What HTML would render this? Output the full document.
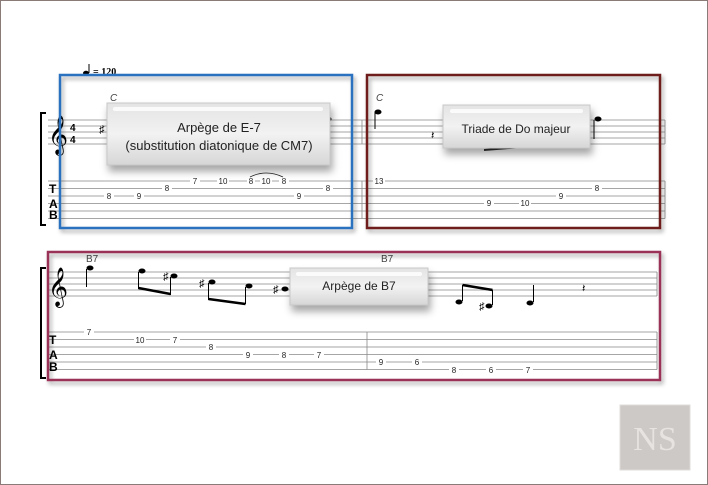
<!DOCTYPE html>
<html><head><meta charset="utf-8"><style>
html,body{margin:0;padding:0;background:#fff;}
svg{display:block;font-family:"Liberation Sans",sans-serif;}
</style></head><body>
<svg width="708" height="485" viewBox="0 0 708 485" xmlns="http://www.w3.org/2000/svg">
<defs>
<linearGradient id="cg" x1="0" y1="0" x2="0" y2="1">
<stop offset="0" stop-color="#e4e4e4"/><stop offset="0.5" stop-color="#f2f2f2"/><stop offset="1" stop-color="#d6d6d6"/>
</linearGradient>
<filter id="sh" x="-20%" y="-20%" width="140%" height="160%"><feDropShadow dx="2" dy="6" stdDeviation="4" flood-color="#000" flood-opacity="0.35"/></filter>
<filter id="sh2" x="-5%" y="-5%" width="110%" height="115%"><feDropShadow dx="2" dy="3" stdDeviation="2" flood-color="#000" flood-opacity="0.35"/></filter>
</defs>
<rect x="0.5" y="0.5" width="707" height="484" fill="#fff" stroke="#8a7a78"/>
<ellipse cx="86" cy="73" rx="3" ry="2.2" fill="#000"/><line x1="89" y1="73" x2="89" y2="64" stroke="#000"/>
<text x="93" y="75" font-family="Liberation Serif" font-weight="bold" font-size="10">= 120</text>
<g stroke="#888" stroke-width="0.8">
<line x1="48" y1="120" x2="665" y2="120"/><line x1="48" y1="126" x2="665" y2="126"/><line x1="48" y1="132" x2="665" y2="132"/><line x1="48" y1="138" x2="665" y2="138"/><line x1="48" y1="144" x2="665" y2="144"/>
<line x1="48" y1="181" x2="665" y2="181"/><line x1="48" y1="188.5" x2="665" y2="188.5"/><line x1="48" y1="196" x2="665" y2="196"/><line x1="48" y1="203.5" x2="665" y2="203.5"/><line x1="48" y1="211" x2="665" y2="211"/><line x1="48" y1="218.5" x2="665" y2="218.5"/>
<line x1="362" y1="120" x2="362" y2="144"/><line x1="362" y1="181" x2="362" y2="218.5"/>
<line x1="665" y1="120" x2="665" y2="144"/><line x1="665" y1="181" x2="665" y2="218.5"/>
</g>
<path d="M46 113 L41 113 L41 225 L46 225" fill="none" stroke="#000" stroke-width="2"/>
<text x="48" y="146" font-size="34" font-family="DejaVu Sans">&#x1D11E;</text>
<text x="70" y="131" font-weight="bold" font-size="10">4</text><text x="70" y="143" font-weight="bold" font-size="10">4</text>
<text x="99" y="133" font-size="11">♯</text>
<text x="49" y="193" font-weight="bold" font-size="12">T</text><text x="49" y="208" font-weight="bold" font-size="12">A</text><text x="49" y="219" font-weight="bold" font-size="12">B</text>
<text x="110" y="101" font-style="italic" font-size="10" fill="#444">C</text>
<text x="376" y="101" font-style="italic" font-size="10" fill="#444">C</text>
<ellipse cx="328" cy="119" rx="3.5" ry="2.5" fill="#000"/>
<ellipse cx="378" cy="112" rx="3.5" ry="2.5" fill="#000"/><line x1="375" y1="112" x2="375" y2="129" stroke="#000"/>
<text x="431" y="139" font-size="11">𝄽</text>
<ellipse cx="598" cy="119" rx="3.5" ry="2.5" fill="#000"/><line x1="594" y1="120" x2="594" y2="139" stroke="#000"/>
<line x1="484" y1="150" x2="522" y2="147" stroke="#333" stroke-width="2"/>
<g font-size="8" text-anchor="middle" fill="#222">
<rect x="104" y="192" width="10" height="8" fill="#fff"/><text x="109" y="199">8</text>
<rect x="134" y="192" width="10" height="8" fill="#fff"/><text x="139" y="199">9</text>
<rect x="162" y="184" width="10" height="8" fill="#fff"/><text x="167" y="191">8</text>
<rect x="190" y="177" width="10" height="8" fill="#fff"/><text x="195" y="184">7</text>
<rect x="217" y="177" width="12" height="8" fill="#fff"/><text x="223" y="184">10</text>
<rect x="247" y="177" width="8" height="8" fill="#fff"/><text x="251" y="184">8</text>
<rect x="260" y="177" width="12" height="8" fill="#fff"/><text x="266" y="184">10</text>
<rect x="279" y="177" width="10" height="8" fill="#fff"/><text x="284" y="184">8</text>
<rect x="294" y="192" width="10" height="8" fill="#fff"/><text x="299" y="199">9</text>
<rect x="323" y="184" width="10" height="8" fill="#fff"/><text x="328" y="191">8</text>
<rect x="373" y="177" width="12" height="8" fill="#fff"/><text x="379" y="184">13</text>
<rect x="484" y="199" width="10" height="8" fill="#fff"/><text x="489" y="206">9</text>
<rect x="519" y="199" width="12" height="8" fill="#fff"/><text x="525" y="206">10</text>
<rect x="556" y="192" width="10" height="8" fill="#fff"/><text x="561" y="199">9</text>
<rect x="592" y="184" width="10" height="8" fill="#fff"/><text x="597" y="191">8</text>
</g>
<path d="M250 177 Q266 169 283 177" fill="none" stroke="#222" stroke-width="0.8"/>
<rect x="60" y="75" width="292" height="153" fill="none" stroke="#2a72c0" stroke-width="2.5" filter="url(#sh2)"/>
<rect x="367" y="75" width="293" height="153" fill="none" stroke="#6e1e1a" stroke-width="2.5" filter="url(#sh2)"/>
<g filter="url(#sh)"><rect x="107" y="103" width="223" height="62" fill="url(#cg)" stroke="#c8c8c8"/></g>
<rect x="113" y="107" width="210" height="4" rx="2" fill="#fff" opacity="0.8"/>
<text x="219" y="132" text-anchor="middle" font-size="13" fill="#222">Arpège de E-7</text>
<text x="219" y="150" text-anchor="middle" font-size="13" fill="#222">(substitution diatonique de CM7)</text>
<g filter="url(#sh)"><rect x="443" y="105" width="147" height="43" fill="url(#cg)" stroke="#c8c8c8"/></g>
<rect x="450" y="109" width="133" height="4" rx="2" fill="#fff" opacity="0.8"/>
<text x="516" y="133" text-anchor="middle" font-size="12" fill="#222">Triade de Do majeur</text>
<g stroke="#888" stroke-width="0.8">
<line x1="48" y1="272" x2="657" y2="272"/><line x1="48" y1="278" x2="657" y2="278"/><line x1="48" y1="284" x2="657" y2="284"/><line x1="48" y1="290" x2="657" y2="290"/><line x1="48" y1="296" x2="657" y2="296"/>
<line x1="48" y1="332" x2="657" y2="332"/><line x1="48" y1="339.5" x2="657" y2="339.5"/><line x1="48" y1="347" x2="657" y2="347"/><line x1="48" y1="354.5" x2="657" y2="354.5"/><line x1="48" y1="362" x2="657" y2="362"/><line x1="48" y1="369.5" x2="657" y2="369.5"/>
<line x1="367" y1="332" x2="367" y2="369.5"/><line x1="657" y1="272" x2="657" y2="296"/><line x1="657" y1="332" x2="657" y2="369.5"/>
</g>
<path d="M46 268 L41 268 L41 378 L46 378" fill="none" stroke="#000" stroke-width="2"/>
<text x="48" y="298" font-size="34" font-family="DejaVu Sans">&#x1D11E;</text>
<text x="49" y="344" font-weight="bold" font-size="12">T</text><text x="49" y="359" font-weight="bold" font-size="12">A</text><text x="49" y="371" font-weight="bold" font-size="12">B</text>
<text x="86" y="262" font-size="10" fill="#444">B7</text><text x="381" y="262" font-size="10" fill="#444">B7</text>
<g fill="#000">
<ellipse cx="90" cy="268" rx="3.5" ry="2.5"/><line x1="86.5" y1="269" x2="86.5" y2="287" stroke="#000"/>
<ellipse cx="142" cy="271" rx="3.5" ry="2.5"/><ellipse cx="174" cy="276" rx="3.5" ry="2.5"/>
<line x1="138.5" y1="272" x2="138.5" y2="289" stroke="#000"/><line x1="170.5" y1="277" x2="170.5" y2="295" stroke="#000"/>
<line x1="138.5" y1="288" x2="170.5" y2="294" stroke="#000" stroke-width="2.5"/>
<ellipse cx="212" cy="282" rx="3.5" ry="2.5"/><ellipse cx="249" cy="286" rx="3.5" ry="2.5"/>
<line x1="208.5" y1="283" x2="208.5" y2="300" stroke="#000"/><line x1="245.5" y1="287" x2="245.5" y2="304" stroke="#000"/>
<line x1="208.5" y1="299" x2="245.5" y2="304" stroke="#000" stroke-width="2.5"/>
<ellipse cx="285" cy="289" rx="3.5" ry="2.5"/>
<ellipse cx="459" cy="302" rx="3.5" ry="2.5"/><ellipse cx="489" cy="306" rx="3.5" ry="2.5"/>
<line x1="462.5" y1="301" x2="462.5" y2="285" stroke="#000"/><line x1="492.5" y1="305" x2="492.5" y2="290" stroke="#000"/>
<line x1="462.5" y1="285" x2="492.5" y2="290" stroke="#000" stroke-width="2.5"/>
<ellipse cx="530" cy="303" rx="3.5" ry="2.5"/><line x1="533.5" y1="302" x2="533.5" y2="285" stroke="#000"/>
</g>
<text x="163" y="280" font-size="11">♯</text><text x="199" y="287" font-size="11">♯</text><text x="273" y="293" font-size="11">♯</text><text x="479" y="310" font-size="11">♯</text>
<text x="582" y="292" font-size="11">𝄽</text>
<g font-size="8" text-anchor="middle" fill="#222">
<rect x="84" y="328" width="10" height="8" fill="#fff"/><text x="89" y="335">7</text>
<rect x="134" y="336" width="12" height="8" fill="#fff"/><text x="140" y="343">10</text>
<rect x="170" y="336" width="10" height="8" fill="#fff"/><text x="175" y="343">7</text>
<rect x="206" y="343" width="10" height="8" fill="#fff"/><text x="211" y="350">8</text>
<rect x="243" y="351" width="10" height="8" fill="#fff"/><text x="248" y="358">9</text>
<rect x="279" y="351" width="10" height="8" fill="#fff"/><text x="284" y="358">8</text>
<rect x="314" y="351" width="10" height="8" fill="#fff"/><text x="319" y="358">7</text>
<rect x="376" y="358" width="10" height="8" fill="#fff"/><text x="381" y="365">9</text>
<rect x="412" y="358" width="10" height="8" fill="#fff"/><text x="417" y="365">6</text>
<rect x="449" y="366" width="10" height="8" fill="#fff"/><text x="454" y="373">8</text>
<rect x="486" y="366" width="10" height="8" fill="#fff"/><text x="491" y="373">6</text>
<rect x="523" y="366" width="10" height="8" fill="#fff"/><text x="528" y="373">7</text>
</g>
<rect x="48" y="252" width="612" height="128" fill="none" stroke="#9a3058" stroke-width="2.5" filter="url(#sh2)"/>
<g filter="url(#sh)"><rect x="290" y="268" width="138" height="37" fill="url(#cg)" stroke="#c8c8c8"/></g>
<rect x="296" y="272" width="126" height="4" rx="2" fill="#fff" opacity="0.8"/>
<text x="359" y="290" text-anchor="middle" font-size="12" fill="#222">Arpège de B7</text>
<rect x="620" y="405" width="70" height="65" fill="#cdc9c6" stroke="#e0dcda"/>
<text x="655" y="450" text-anchor="middle" font-family="Liberation Serif" font-size="34" fill="#e6e3e0">NS</text>
</svg>
</body></html>
